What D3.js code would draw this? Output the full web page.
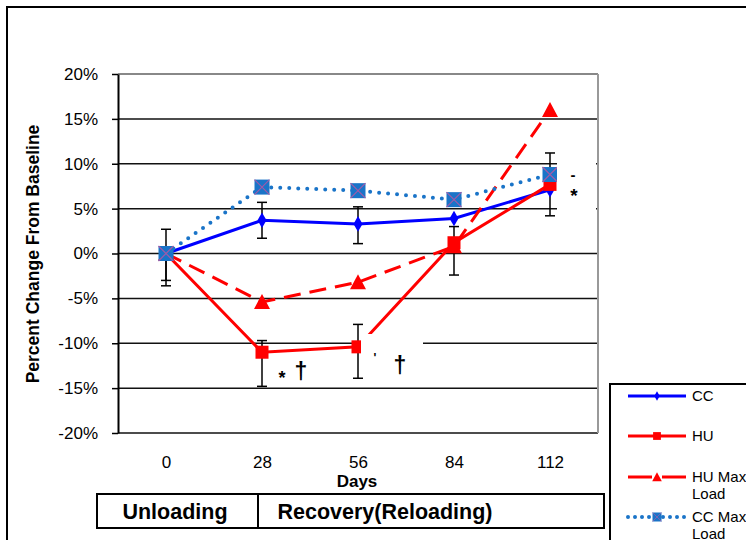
<!DOCTYPE html>
<html>
<head>
<meta charset="utf-8">
<script src="https://cdn.jsdelivr.net/npm/d3@7"></script>
<style>
  body { margin: 0; background: #fff; }
  svg { font-family: "Liberation Sans", Arial, sans-serif; }
</style>
</head>
<body>
<div id="chart"></div>
<script>
// values, in percent
var days = ["0", "28", "56", "84", "112"];
var yTicks = [-20, -15, -10, -5, 0, 5, 10, 15, 20];

var ccVals = [0, 3.7, 3.3, 3.9, 7.1];
var huVals = [0, -11.0, -10.4, 1.2, 7.7];
var huMaxVals = [0, -5.4, -3.2, 0.8, 16.0];
var ccMaxVals = [0, 7.4, 7.0, 6.0, 8.8];

// error bar ends (null = no bar)
var ccHi = [2.7, 5.7, 5.2, null, 11.2];
var ccLo = [-3.0, 1.7, 1.1, null, 4.2];
var huHi = [0, -9.7, -7.9, 3.0, null];
var huLo = [-3.6, -14.8, -13.9, -2.4, null];

var seriesNames = ["CC", "HU", "HU Max Load", "CC Max Load"];

var svg = d3.select("#chart").append("svg")
  .attr("width", 746)
  .attr("height", 540);

// outer frame
svg.append("rect")
  .attr("x", 7).attr("y", 7)
  .attr("width", 780).attr("height", 560)
  .attr("fill", "none")
  .attr("stroke", "#000")
  .attr("stroke-width", 2);

var x = d3.scalePoint().domain(days).range([118, 598]).padding(0.5);
var y = d3.scaleLinear().domain([-20, 20]).range([433, 74]);

// gridlines
svg.append("g").selectAll("line").data(yTicks.slice(0, -1)).enter().append("line")
  .attr("x1", 118).attr("x2", 598)
  .attr("y1", function(d){ return y(d); })
  .attr("y2", function(d){ return y(d); })
  .attr("stroke", "#111")
  .attr("stroke-width", 1.5);

// top and right plot border in grey
svg.append("line").attr("x1", 118).attr("x2", 598).attr("y1", y(20)).attr("y2", y(20))
  .attr("stroke", "#888").attr("stroke-width", 2);
svg.append("line").attr("x1", 598).attr("x2", 598).attr("y1", y(20)).attr("y2", y(-20))
  .attr("stroke", "#999").attr("stroke-width", 2);

// y axis
var yAxis = svg.append("g")
  .attr("transform", "translate(118,0)")
  .call(d3.axisLeft(y).tickValues(yTicks).tickSize(6).tickSizeOuter(0)
    .tickFormat(function(d){ return d + "%"; }));
yAxis.select(".domain").attr("stroke", "#000").attr("stroke-width", 2);
yAxis.selectAll(".tick line").attr("stroke", "#000").attr("stroke-width", 1.5);
yAxis.selectAll("text")
  .attr("font-size", 17)
  .attr("fill", "#000")
  .attr("font-family", "Liberation Sans, Arial, sans-serif")
  .attr("x", -20);

// x axis labels
var xAxis = svg.append("g")
  .attr("transform", "translate(0," + 450 + ")")
  .call(d3.axisBottom(x).tickSize(0));
xAxis.select(".domain").remove();
xAxis.selectAll("text")
  .attr("font-size", 17)
  .attr("fill", "#000")
  .attr("font-family", "Liberation Sans, Arial, sans-serif")
  .attr("dy", "0.71em")
  .attr("y", 6);

svg.append("text")
  .attr("x", 357).attr("y", 487)
  .attr("text-anchor", "middle")
  .attr("font-size", 17).attr("font-weight", "bold")
  .text("Days");

svg.append("text")
  .attr("transform", "translate(39,254) rotate(-90)")
  .attr("text-anchor", "middle")
  .attr("font-size", 17.5).attr("font-weight", "bold")
  .text("Percent Change From Baseline");

// error bars
function errBars(hi, lo) {
  var data = [];
  for (var i = 0; i < days.length; i++) {
    if (hi[i] != null) data.push({d: days[i], hi: hi[i], lo: lo[i]});
  }
  var g = svg.append("g").attr("stroke", "#000").attr("stroke-width", 1.5);
  g.selectAll(".v").data(data).enter().append("line")
    .attr("x1", function(d){ return x(d.d); })
    .attr("x2", function(d){ return x(d.d); })
    .attr("y1", function(d){ return y(d.hi); })
    .attr("y2", function(d){ return y(d.lo); });
  ["hi", "lo"].forEach(function(k){
    g.selectAll(".c" + k).data(data).enter().append("line")
      .attr("x1", function(d){ return x(d.d) - 5; })
      .attr("x2", function(d){ return x(d.d) + 5; })
      .attr("y1", function(d){ return y(d[k]); })
      .attr("y2", function(d){ return y(d[k]); });
  });
}
errBars(ccHi, ccLo);
errBars(huHi, huLo);

var line = d3.line()
  .x(function(d, i){ return x(days[i]); })
  .y(function(d){ return y(d); });

var styles = [
  {vals: ccVals, color: "#0000ff", dash: null, width: 3, marker: "diamond"},
  {vals: huVals, color: "#ff0000", dash: null, width: 3, marker: "square"},
  {vals: huMaxVals, color: "#ff0000", dash: "17,9", width: 3, marker: "triangle"},
  {vals: ccMaxVals, color: "#1a74c8", dash: "0,9", width: 4, marker: "xsquare"}
];

function drawMarker(g, type, cx, cy, color) {
  if (type == "diamond") {
    g.append("path").attr("d", d3.symbol(d3.symbolDiamond, 70)())
      .attr("transform", "translate(" + cx + "," + cy + ")")
      .attr("fill", color);
  } else if (type == "square") {
    g.append("rect").attr("x", cx - 6.5).attr("y", cy - 6.5)
      .attr("width", 13).attr("height", 13).attr("fill", color);
  } else if (type == "triangle") {
    g.append("path").attr("d", "M0,-8L8,7L-8,7Z")
      .attr("transform", "translate(" + cx + "," + cy + ")")
      .attr("fill", color);
  } else {
    g.append("rect").attr("x", cx - 7.5).attr("y", cy - 7.5)
      .attr("width", 15).attr("height", 15).attr("fill", color);
    g.append("path")
      .attr("d", "M" + (cx-7.5) + "," + (cy-7.5) + "L" + (cx+7.5) + "," + (cy+7.5) +
                 "M" + (cx+7.5) + "," + (cy-7.5) + "L" + (cx-7.5) + "," + (cy+7.5))
      .attr("stroke", "#a05aa8").attr("stroke-width", 1.2);
  }
}

styles.forEach(function(s){
  svg.append("path").datum(s.vals)
    .attr("d", line)
    .attr("fill", "none")
    .attr("stroke", s.color)
    .attr("stroke-width", s.width)
    .attr("stroke-linecap", s.dash == "0,9" ? "round" : "butt")
    .attr("stroke-dasharray", s.dash);
  var g = svg.append("g");
  s.vals.forEach(function(v, i){
    drawMarker(g, s.marker, x(days[i]), y(v), s.color);
  });
});

// white boxes over the chart, with the significance marks
svg.append("rect").attr("x", 361).attr("y", 334).attr("width", 62).attr("height", 43).attr("fill", "#fff");
svg.append("rect").attr("x", 557).attr("y", 140).attr("width", 39).attr("height", 80).attr("fill", "#fff");

var marks = [
  {t: "*", x: 282, y: 384, s: 18},
  {t: "†", x: 301, y: 379, s: 23},
  {t: "'", x: 375, y: 362, s: 12},
  {t: "†", x: 400, y: 373, s: 23},
  {t: "-", x: 573, y: 180, s: 15},
  {t: "*", x: 574, y: 202, s: 19}
];
svg.append("g").selectAll("text").data(marks).enter().append("text")
  .attr("x", function(d){ return d.x; })
  .attr("y", function(d){ return d.y; })
  .attr("text-anchor", "middle")
  .attr("font-size", function(d){ return d.s; })
  .attr("font-weight", "bold")
  .text(function(d){ return d.t; });

// phase table under the axis
var phases = ["Unloading", "Recovery(Reloading)"];
svg.append("rect").attr("x", 97).attr("y", 494).attr("width", 507).attr("height", 34)
  .attr("fill", "none").attr("stroke", "#000").attr("stroke-width", 2);
svg.append("line").attr("x1", 258).attr("x2", 258).attr("y1", 494).attr("y2", 528)
  .attr("stroke", "#000").attr("stroke-width", 2);
svg.selectAll(".phase").data(phases).enter().append("text")
  .attr("x", function(d, i){ return i == 0 ? 175 : 385; })
  .attr("y", 519)
  .attr("text-anchor", "middle")
  .attr("font-size", 21.5).attr("font-weight", "bold")
  .text(function(d){ return d; });

// legend
var lg = svg.append("g");
lg.append("rect").attr("x", 610).attr("y", 384).attr("width", 160).attr("height", 200)
  .attr("fill", "#fff").attr("stroke", "#000").attr("stroke-width", 2);
var legY = [396, 436, 477, 517];
styles.forEach(function(s, i){
  lg.append("line")
    .attr("x1", 628).attr("x2", 686)
    .attr("y1", legY[i]).attr("y2", legY[i])
    .attr("stroke", s.color)
    .attr("stroke-width", s.width)
    .attr("stroke-linecap", s.dash == "0,9" ? "round" : "butt")
    .attr("stroke-dasharray", s.dash == "0,9" ? "0,7" : (s.dash ? "24,10" : null));
  var mg = lg.append("g").attr("transform", "translate(657," + legY[i] + ") scale(0.6) translate(-657," + (-legY[i]) + ")");
  drawMarker(mg, s.marker, 657, legY[i], s.color);
  var words = seriesNames[i].split(" ");
  var t = lg.append("text").attr("x", 692).attr("y", legY[i] + 5).attr("font-size", 15);
  if (words.length > 2) {
    t.append("tspan").attr("x", 692).text(words[0] + " " + words[1]);
    t.append("tspan").attr("x", 692).attr("dy", 17).text(words[2]);
  } else {
    t.text(seriesNames[i]);
  }
});
</script>
</body>
</html>
